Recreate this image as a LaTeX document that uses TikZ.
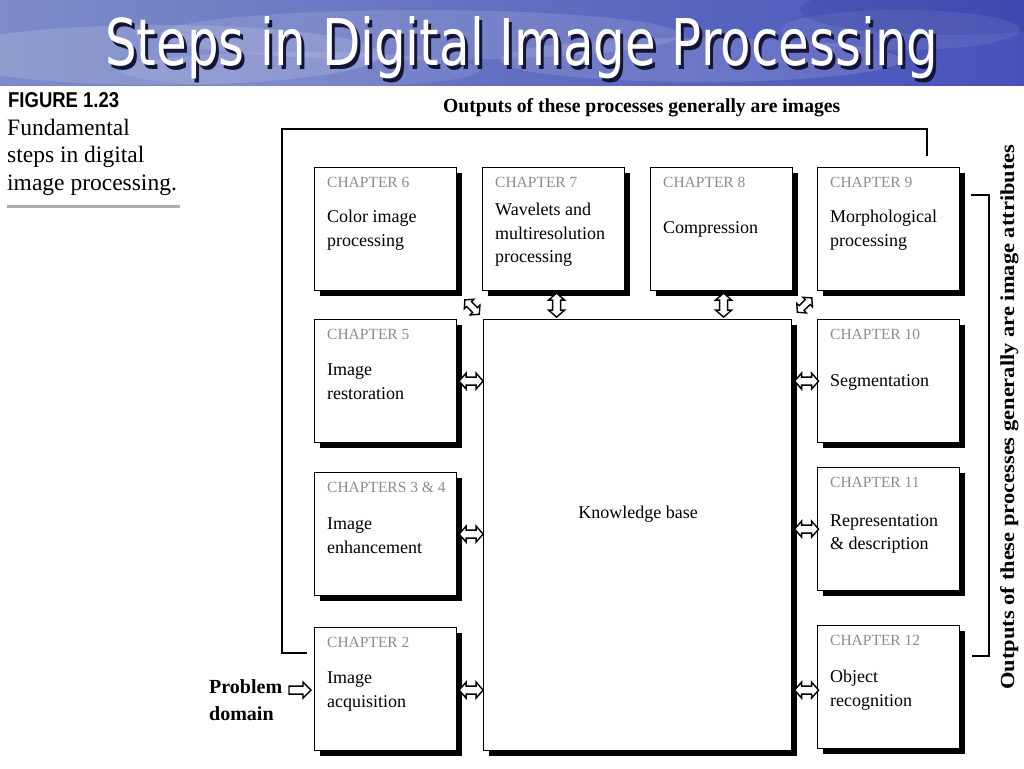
\documentclass[tikz,border=0pt]{standalone}
\usepackage{fontspec}
\usepackage{graphicx}
\setmainfont{Liberation Serif}
\newfontfamily\sansf{Liberation Sans}
\newfontfamily\titlef{DejaVu Sans}
\usetikzlibrary{calc,shadows}
\definecolor{chapgray}{RGB}{140,140,140}
\definecolor{barleft}{RGB}{125,140,200}
\definecolor{barright}{RGB}{70,82,185}
\definecolor{titleshadow}{RGB}{20,20,55}
\definecolor{rulegray}{RGB}{175,175,175}
\newcommand{\titletext}{\resizebox{833pt}{49pt}{\titlef Steps in Digital Image Processing}}
\tikzset{
  darrow/.pic={\draw[line width=1.4pt, fill=white, line join=miter]
    (-12,0) -- (-5,-8) -- (-5,-4) -- (5,-4) -- (5,-8) -- (12,0)
    -- (5,8) -- (5,4) -- (-5,4) -- (-5,8) -- cycle;},
  sarrow/.pic={\draw[line width=1.4pt, fill=white, line join=miter]
    (-11,-4) -- (3,-4) -- (3,-8) -- (11,0) -- (3,8) -- (3,4) -- (-11,4) -- cycle;}
}
\begin{document}
\begin{tikzpicture}[x=1pt,y=-1pt,
  box/.style={draw, line width=1.2pt, fill=white, minimum width=142pt,
    minimum height=123pt, anchor=north west, inner sep=0pt,
    drop shadow={shadow xshift=5pt, shadow yshift=-5pt, opacity=1, fill=black}},
  chap/.style={anchor=base west, inner sep=0pt, text=chapgray,
    font=\fontsize{15.5}{18}\selectfont},
  body/.style={anchor=north west, inner sep=0pt, align=left,
    font=\fontsize{18}{23.5}\selectfont},
  bracket/.style={draw, line width=1.2pt},
  txt/.style={inner sep=0pt}
]
\useasboundingbox (0,0) rectangle (1024,768);
\fill[white] (0,0) rectangle (1024,768);
% title bar
\shade[left color=barleft, right color=barright] (0,0) rectangle (1024,85);
\begin{scope}
  \clip (0,0) rectangle (1024,85);
  \fill[white, opacity=0.14] (160,55) ellipse (220 and 30);
  \fill[white, opacity=0.12] (420,35) ellipse (260 and 25);
  \fill[white, opacity=0.12] (700,60) ellipse (200 and 22);
  \fill[white, opacity=0.10] (300,70) ellipse (180 and 18);
  \fill[white, opacity=0.08] (900,30) ellipse (120 and 20);
  \fill[black!60!blue, opacity=0.10] (950,10) ellipse (150 and 25);
\end{scope}
\node[txt, anchor=base west, text=white] (title) at (105,66)
  {\makebox[0pt][l]{\hspace*{3pt}\raisebox{-3pt}{\color{titleshadow}\titletext}}\titletext};
% caption
\node[txt, anchor=base west] (fig) at (8,107)
  {\resizebox{111pt}{15pt}{\sansf\bfseries FIGURE 1.23}};
\node[txt, anchor=base west, font=\fontsize{23.5}{27.5}\selectfont] (cap1) at (7,135) {Fundamental};
\node[txt, anchor=base west, font=\fontsize{23.5}{27.5}\selectfont] (cap2) at (7,162) {steps in digital};
\node[txt, anchor=base west, font=\fontsize{23.5}{27.5}\selectfont] (cap3) at (7,190) {image processing.};
\draw[rulegray, line width=3pt] (7,206) -- (180,206);
% top label and right label
\node[txt, anchor=base west] (toplabel) at (443,112)
  {\resizebox{397pt}{14pt}{\bfseries Outputs of these processes generally are images}};
\node[txt, anchor=base, rotate=90] (rightlabel) at (1014,417)
  {\resizebox{545pt}{14pt}{\bfseries Outputs of these processes generally are image attributes}};
% brackets
\coordinate (tb1) at (307,653);
\coordinate (tb2) at (282,653);
\coordinate (tb3) at (282,129);
\coordinate (tb4) at (927,129);
\coordinate (tb5) at (927,156);
\draw[bracket] (tb1) -- (tb2) -- (tb3) -- (tb4) -- (tb5);
\coordinate (rb1) at (971,195);
\coordinate (rb2) at (989,195);
\coordinate (rb3) at (989,656);
\coordinate (rb4) at (972,656);
\draw[bracket] (rb1) -- (rb2) -- (rb3) -- (rb4);
% knowledge base
\node[draw, line width=1.2pt, fill=white, minimum width=308pt, minimum height=431pt,
  anchor=north west, inner sep=0pt,
  drop shadow={shadow xshift=5pt, shadow yshift=-5pt, opacity=1, fill=black}] (kb) at (483,319) {};
\node[txt, font=\fontsize{18}{22}\selectfont, anchor=base] (kbt) at (638,518) {Knowledge base};
% boxes
\node[box] (ch6) at (314,167) {};
\node[box] (ch7) at (482,167) {};
\node[box] (ch8) at (650,167) {};
\node[box] (ch9) at (817,167) {};
\node[box] (ch5) at (314,319) {};
\node[box] (ch34) at (314,472) {};
\node[box] (ch2) at (314,627) {};
\node[box] (ch10) at (817,319) {};
\node[box] (ch11) at (817,467) {};
\node[box] (ch12) at (817,625) {};
% box texts
\node[chap] (l6) at ([shift={(13,20)}]ch6.north west) {CHAPTER 6};
\node[body] (t6) at ([shift={(13,43)}]ch6.north west) {Color image\\processing};
\node[chap] (l7) at ([shift={(13,20)}]ch7.north west) {CHAPTER 7};
\node[body] (t7) at ([shift={(13,36)}]ch7.north west) {Wavelets and\\multiresolution\\processing};
\node[chap] (l8) at ([shift={(13,20)}]ch8.north west) {CHAPTER 8};
\node[body] (t8) at ([shift={(13,54)}]ch8.north west) {Compression};
\node[chap] (l9) at ([shift={(13,20)}]ch9.north west) {CHAPTER 9};
\node[body] (t9) at ([shift={(13,43)}]ch9.north west) {Morphological\\processing};
\node[chap] (l5) at ([shift={(13,20)}]ch5.north west) {CHAPTER 5};
\node[body] (t5) at ([shift={(13,45)}]ch5.north west) {Image\\restoration};
\node[chap] (l34) at ([shift={(13,20)}]ch34.north west) {CHAPTERS 3 \& 4};
\node[body] (t34) at ([shift={(13,46)}]ch34.north west) {Image\\enhancement};
\node[chap] (l2) at ([shift={(13,20)}]ch2.north west) {CHAPTER 2};
\node[body] (t2) at ([shift={(13,45)}]ch2.north west) {Image\\acquisition};
\node[chap] (l10) at ([shift={(13,20)}]ch10.north west) {CHAPTER 10};
\node[body] (t10) at ([shift={(13,55)}]ch10.north west) {Segmentation};
\node[chap] (l11) at ([shift={(13,20)}]ch11.north west) {CHAPTER 11};
\node[body] (t11) at ([shift={(13,47)}]ch11.north west) {Representation\\\& description};
\node[chap] (l12) at ([shift={(13,20)}]ch12.north west) {CHAPTER 12};
\node[body] (t12) at ([shift={(13,45)}]ch12.north west) {Object\\recognition};
% problem domain
\node[txt, anchor=base west, font=\fontsize{20}{27}\selectfont\bfseries] (pd1) at (209,693) {Problem};
\node[txt, anchor=base west, font=\fontsize{20}{27}\selectfont\bfseries] (pd2) at (209,720) {domain};
\pic at ($(ch2.west)+(-14,1)$) {sarrow};
% block arrows
\pic at ($(ch5.east)!0.5!(kb.west |- ch5.east)+(1,0)$) {darrow};
\pic at ($(ch34.east)!0.5!(kb.west |- ch34.east)+(1,0)$) {darrow};
\pic at ($(ch2.east)!0.5!(kb.west |- ch2.east)+(1,1)$) {darrow};
\pic at ($(kb.east |- ch10.west)!0.5!(ch10.west)+(2,0)$) {darrow};
\pic at ($(kb.east |- ch11.west)!0.5!(ch11.west)+(2,0)$) {darrow};
\pic at ($(kb.east |- ch12.west)!0.5!(ch12.west)+(2,3)$) {darrow};
\pic[rotate=90] at ($(ch7.south)!0.5!(ch7.south |- kb.north)+(3,0)$) {darrow};
\pic[rotate=90] at ($(ch8.south)!0.5!(ch8.south |- kb.north)+(2,0)$) {darrow};
\pic[rotate=-45, scale=0.85] at ($(ch6.south east)!0.5!(kb.north west)+(2,2)$) {darrow};
\pic[rotate=45, scale=0.85] at ($(ch9.south west)!0.5!(kb.north east)$) {darrow};
\end{tikzpicture}
\end{document}
